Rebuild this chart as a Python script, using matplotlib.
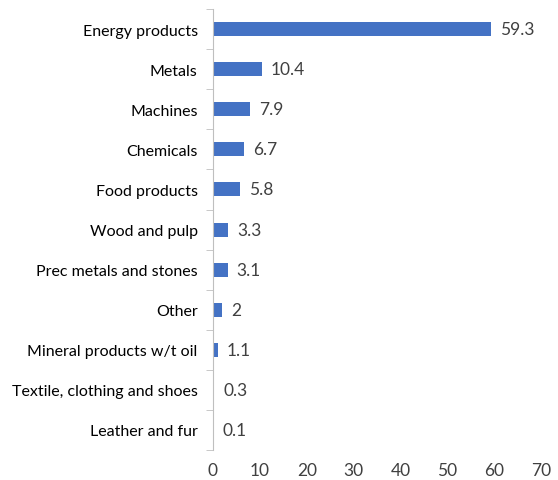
import numpy as np
import matplotlib.pyplot as plt

# dados do gráfico (de cima para baixo)
categorias = ["Energy products", "Metals", "Machines", "Chemicals", "Food products",
              "Wood and pulp", "Prec metals and stones", "Other",
              "Mineral products w/t oil", "Textile, clothing and shoes", "Leather and fur"]
valores = [59.3, 10.4, 7.9, 6.7, 5.8, 3.3, 3.1, 2, 1.1, 0.3, 0.1]
rotulos = ["59.3", "10.4", "7.9", "6.7", "5.8", "3.3", "3.1", "2", "1.1", "0.3", "0.1"]
xticks = [0, 10, 20, 30, 40, 50, 60, 70]

plt.rcParams["font.family"] = ["Lato", "DejaVu Sans"]

fig = plt.figure(figsize=(5.58, 4.81), dpi=100)
ax = fig.add_axes([0.3817, 0.0624, 0.588, 0.9166])

y = np.arange(len(categorias))
ax.barh(y, valores, height=0.35, color="#4472C4")
ax.set_ylim(len(categorias) - 0.5, -0.5)
ax.set_xlim(0, 70)

for yi, v, r in zip(y, valores, rotulos):
    ax.text(v + 1.9, yi, r, va="center", ha="left", fontsize=12.5, color="#404040")

ax.set_yticks(y)
ax.set_yticklabels(categorias, fontsize=11.5, color="#000000")
ax.set_yticks(np.arange(-0.5, len(categorias)), minor=True)
ax.tick_params(axis="y", which="major", length=0, pad=11)
ax.tick_params(axis="y", which="minor", length=5, color="#BFBFBF")

ax.set_xticks(xticks)
ax.set_xticklabels([str(t) for t in xticks], fontsize=12.5, color="#404040")
ax.tick_params(axis="x", length=0, pad=9)

for s in ["top", "right", "bottom"]:
    ax.spines[s].set_visible(False)
ax.spines["left"].set_color("#BFBFBF")

fig.savefig("out.png", dpi=100)
